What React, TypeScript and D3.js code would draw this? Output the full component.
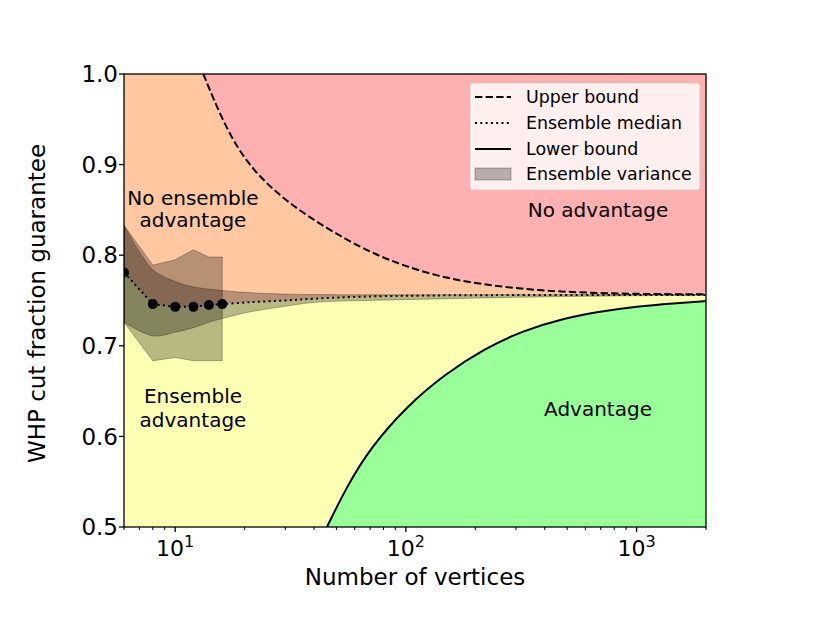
import React from "react";
import * as d3 from "d3";

// ---- data ----
const upperN = [13.24, 16.2, 20.4, 28.5, 39.7, 55.4, 74.7, 97.9, 136.9, 191.6, 268, 375, 525, 735, 1028, 2000];
const upperV = [1.0, 0.9455, 0.901, 0.8646, 0.8389, 0.8168, 0.8002, 0.7885, 0.777, 0.7697, 0.7649, 0.7612, 0.7593, 0.758, 0.7572, 0.7568];

const lowerN = [45.5, 55, 70, 100, 150, 220, 320, 470, 700, 1000, 1450, 2000];
const lowerV = [0.5, 0.543, 0.587, 0.6325, 0.67, 0.697, 0.7165, 0.7295, 0.738, 0.7435, 0.747, 0.7494];

const medianN = [6, 8, 10, 12, 14, 16, 20.7, 29, 40.4, 66.5, 125, 300, 2000];
const medianV = [0.781, 0.746, 0.743, 0.743, 0.745, 0.746, 0.748, 0.7498, 0.752, 0.7543, 0.7555, 0.756, 0.7562];

const dotN = [6, 8, 10, 12, 14, 16];
const dotV = [0.781, 0.746, 0.743, 0.743, 0.745, 0.746];

const bandUpN = [6, 8, 10, 12, 15.3, 20.7, 29, 40.4, 100, 2000];
const bandUpV = [0.833, 0.784, 0.771, 0.765, 0.7616, 0.7587, 0.7572, 0.7565, 0.7563, 0.7563];
const bandLoN = [6, 8, 10, 12, 14, 16, 20.7, 29, 40.4, 66.5, 125, 300, 800, 2000];
const bandLoV = [0.726, 0.711, 0.715, 0.72, 0.726, 0.73, 0.737, 0.743, 0.748, 0.75, 0.7515, 0.7535, 0.755, 0.7558];

const empN = [6, 8, 10, 12, 14, 16];
const empTop = [0.833, 0.789, 0.795, 0.806, 0.798, 0.798];
const empBot = [0.726, 0.6835, 0.687, 0.6835, 0.6835, 0.6835];

const yTicks = [0.5, 0.6, 0.7, 0.8, 0.9, 1.0];
const xMajor = [10, 100, 1000];
const xDomain = [6, 2000];
const yDomain = [0.5, 1.0];

const legendItems = ["Upper bound", "Ensemble median", "Lower bound", "Ensemble variance"];

// ---- layout ----
const W = 830, H = 621;
const L = 124, R = 706, T = 74, B = 527;
const FONT = "DejaVu Sans, sans-serif";

export default function App() {
  const x = d3.scaleLog().domain(xDomain).range([L, R]);
  const y = d3.scaleLinear().domain(yDomain).range([B, T]);

  const zip = (ns: number[], vs: number[]) => ns.map((n, i) => [n, vs[i]] as [number, number]);

  const curve = d3.curveCatmullRom.alpha(0.5);
  const bCurve = d3.curveBasis;
  const lineSmooth = d3.line<[number, number]>().x(d => x(d[0])).y(d => y(d[1])).curve(curve);
  const lineBound = d3.line<[number, number]>().x(d => x(d[0])).y(d => y(d[1])).curve(bCurve);
  const lineLin = d3.line<[number, number]>().x(d => x(d[0])).y(d => y(d[1]));

  const areaTop = (pts: [number, number][]) =>
    d3.area<[number, number]>().x(d => x(d[0])).y0(d => y(d[1])).y1(y(1.0)).curve(bCurve)(pts) as string;
  const areaBottom = (pts: [number, number][]) =>
    d3.area<[number, number]>().x(d => x(d[0])).y0(y(0.5)).y1(d => y(d[1])).curve(bCurve)(pts) as string;

  const upperPts = zip(upperN, upperV);
  const lowerPts = zip(lowerN, lowerV);
  const medPts = zip(medianN, medianV);

  // peach region: above the median (linear between dots, smooth after)
  const medPath = (lineLin(medPts.slice(0, 6)) as string) + "L" + (lineSmooth(medPts.slice(5)) as string).slice(1);
  const peachPath = medPath + `L${x(xDomain[1])},${y(1.0)}L${x(xDomain[0])},${y(1.0)}Z`;

  // smooth band polygon
  const upPts = zip(bandUpN, bandUpV);
  const loPts = zip(bandLoN, bandLoV);
  const bandPath = (lineSmooth(upPts) as string) + "L" + (lineSmooth(loPts.slice().reverse()) as string).slice(1) + "Z";

  const empArea = d3.area<number>().x((_, i) => x(empN[i])).y0((_, i) => y(empBot[i])).y1((_, i) => y(empTop[i]))(empN) as string;

  const minor: number[] = [];
  for (let dec = 1; dec <= 1000; dec *= 10) {
    for (let k = 2; k <= 9; k++) {
      const v = k * dec;
      if (v >= xDomain[0] && v <= xDomain[1]) minor.push(v);
    }
  }

  const bandFill = "#000000";
  const bandOpacity = 0.28;

  const legX = 470, legY = 83, legW = 230, legH = 107;
  const rowY = [97, 123, 149, 174];

  return (
    <svg width={W} height={H} style={{ position: "absolute", left: 0, top: 0, background: "#ffffff" }} fontFamily={FONT}>
      <defs>
        <clipPath id="plotclip">
          <rect x={L} y={T} width={R - L} height={B - T} />
        </clipPath>
      </defs>
      <g clipPath="url(#plotclip)">
        <rect x={L} y={T} width={R - L} height={B - T} fill="#ffffb4" />
        <path d={peachPath} fill="#ffc8a0" />
        <path d={areaTop(upperPts)} fill="#ffb0b0" />
        <path d={areaBottom(lowerPts)} fill="#99ff99" />
        <path d={bandPath} fill={bandFill} fillOpacity={bandOpacity} stroke={bandFill} strokeOpacity={bandOpacity} strokeWidth={1} />
        <path d={empArea} fill={bandFill} fillOpacity={bandOpacity} stroke={bandFill} strokeOpacity={bandOpacity} strokeWidth={1} />
        <path d={lineBound(upperPts) as string} fill="none" stroke="#000" strokeWidth={2} strokeDasharray="7.4,3.2" />
        <path d={lineBound(lowerPts) as string} fill="none" stroke="#000" strokeWidth={2} />
        <path d={medPath} fill="none" stroke="#000" strokeWidth={2} strokeDasharray="2,3.3" />
        {dotN.map((n, i) => (
          <circle key={n} cx={x(n)} cy={y(dotV[i])} r={5} fill="#000" />
        ))}
      </g>

      {/* annotations */}
      <g fontSize={20} fill="#000" textAnchor="middle">
        <text x={193} y={205}>No ensemble</text>
        <text x={193} y={227}>advantage</text>
        <text x={598} y={217}>No advantage</text>
        <text x={193} y={403}>Ensemble</text>
        <text x={193} y={427}>advantage</text>
        <text x={598} y={416}>Advantage</text>
      </g>

      {/* spines */}
      <rect x={L} y={T} width={R - L} height={B - T} fill="none" stroke="#000" strokeWidth={1.3} />

      {/* y axis */}
      {yTicks.map(t => (
        <g key={t}>
          <line x1={L - 5} x2={L} y1={y(t)} y2={y(t)} stroke="#000" strokeWidth={1.3} />
          <text x={L - 6} y={y(t)} dy="0.36em" textAnchor="end" fontSize={23}>{t.toFixed(1)}</text>
        </g>
      ))}
      <text transform={`translate(45,${(T + B) / 2 + 3}) rotate(-90)`} textAnchor="middle" fontSize={23}>WHP cut fraction guarantee</text>

      {/* x axis */}
      {minor.map(v => (
        <line key={v} x1={x(v)} x2={x(v)} y1={B} y2={B + 3} stroke="#000" strokeWidth={1} />
      ))}
      {xMajor.map(v => (
        <g key={v}>
          <line x1={x(v)} x2={x(v)} y1={B} y2={B + 5} stroke="#000" strokeWidth={1.3} />
          <text x={x(v)} y={556} textAnchor="middle" fontSize={22}>
            10<tspan dy={-9} fontSize={16}>{Math.round(Math.log10(v))}</tspan>
          </text>
        </g>
      ))}
      <text x={(L + R) / 2} y={585} textAnchor="middle" fontSize={23}>Number of vertices</text>

      {/* legend */}
      <rect x={legX} y={legY} width={legW} height={legH} rx={3} fill="#ffffff" fillOpacity={0.8} stroke="#cccccc" strokeOpacity={0.8} />
      <line x1={475} x2={511} y1={rowY[0]} y2={rowY[0]} stroke="#000" strokeWidth={2} strokeDasharray="7.4,3.2" />
      <line x1={475} x2={511} y1={rowY[1]} y2={rowY[1]} stroke="#000" strokeWidth={2} strokeDasharray="2,3.3" />
      <line x1={475} x2={511} y1={rowY[2]} y2={rowY[2]} stroke="#000" strokeWidth={2} />
      <rect x={475} y={rowY[3] - 6} width={36} height={12} fill={bandFill} fillOpacity={bandOpacity} stroke={bandFill} strokeOpacity={bandOpacity} />
      {legendItems.map((s, i) => (
        <text key={s} x={526} y={rowY[i]} dy="0.36em" fontSize={17.4}>{s}</text>
      ))}
    </svg>
  );
}
